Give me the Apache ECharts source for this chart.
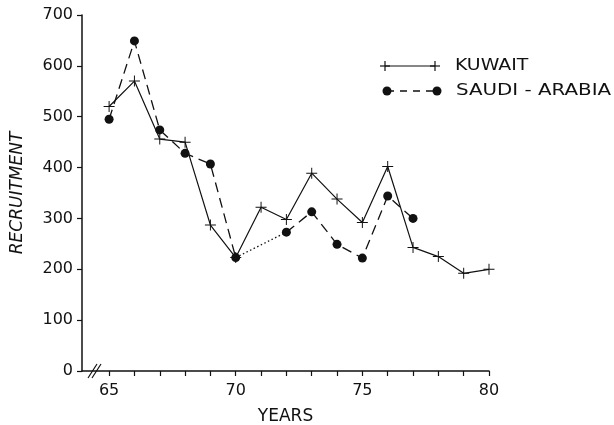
<!DOCTYPE html>
<html><head><meta charset="utf-8">
<script src="https://cdn.jsdelivr.net/npm/echarts@6/dist/echarts.min.js"></script>
<style>html,body{margin:0;padding:0;background:#fff}#c{width:614px;height:425px}</style>
</head><body><div id="c"></div>
<script>
var years = [65,66,67,68,69,70,71,72,73,74,75,76,77,78,79,80];
var kuwait = [520,570,456,450,287,223,322,298,389,338,292,402,243,225,192,200];
var saudiYears = [65,66,67,68,69,70,72,73,74,75,76,77];
var saudi = [495,649,474,428,407,223,273,313,249,222,344,300];
var yTicks = [0,100,200,300,400,500,600,700];
var xLabels = [65,70,75,80];

var FONT = 'DejaVu Sans';
var INK = '#111';
var plus = 'path://M-1,-0.09H1V0.09H-1Z M-0.09,-1H0.09V1H-0.09Z';

var kData = years.map(function(y,i){return [y,kuwait[i]];});
var sAll = saudiYears.map(function(y,i){return [y,saudi[i]];});
var idx70 = saudiYears.indexOf(70);
var sPart1 = sAll.slice(0, idx70+1);
var sGap = sAll.slice(idx70, idx70+2);
var sPart2 = sAll.slice(idx70+1);

function plusGfx(cx, cy){
  return [
    {type:'rect', shape:{x:cx-5,y:cy-0.6,width:10,height:1.2}, style:{fill:INK}},
    {type:'rect', shape:{x:cx-0.6,y:cy-5,width:1.2,height:10}, style:{fill:INK}}
  ];
}

var gfx = [
  {type:'line', shape:{x1:88,y1:378,x2:97,y2:364}, style:{stroke:INK,lineWidth:1.2}},
  {type:'line', shape:{x1:92,y1:378,x2:101,y2:364}, style:{stroke:INK,lineWidth:1.2}},
  {type:'line', shape:{x1:385,y1:66,x2:435,y2:66}, style:{stroke:INK,lineWidth:1.2}},
  {type:'text', x:455, y:66, scaleX:1.18, style:{text:'KUWAIT', font:'16px "DejaVu Sans"', fill:INK, verticalAlign:'middle'}},
  {type:'line', shape:{x1:387,y1:91,x2:437,y2:91}, style:{stroke:INK,lineWidth:1.3,lineDash:[7,6]}},
  {type:'circle', shape:{cx:387,cy:91,r:4.5}, style:{fill:INK}},
  {type:'circle', shape:{cx:437,cy:91,r:4.5}, style:{fill:INK}},
  {type:'text', x:456, y:91, scaleX:1.24, style:{text:'SAUDI - ARABIA', font:'16px "DejaVu Sans"', fill:INK, verticalAlign:'middle'}}
].concat(plusGfx(385,66), plusGfx(435,66));

var chart = echarts.init(document.getElementById('c'), null, {renderer:'canvas'});
chart.setOption({
  animation:false,
  backgroundColor:'#fff',
  grid:{left:82,right:125,top:15,bottom:54,containLabel:false,outerBoundsMode:'none'},
  xAxis:{
    type:'value', min:63.93, max:80,
    axisLine:{lineStyle:{color:INK,width:1.5}},
    axisTick:{show:true,length:5,lineStyle:{color:INK,width:1.2},customValues:years},
    axisLabel:{color:INK,fontFamily:FONT,fontSize:16,margin:12,customValues:xLabels},
    splitLine:{show:false},
    name:'YEARS', nameLocation:'middle', nameGap:37,
    nameTextStyle:{color:INK,fontFamily:FONT,fontSize:17}
  },
  yAxis:{
    type:'value', min:0, max:700, interval:100,
    axisLine:{show:true,lineStyle:{color:INK,width:1.5}},
    axisTick:{show:true,length:5,lineStyle:{color:INK,width:1.2}},
    axisLabel:{color:INK,fontFamily:FONT,fontSize:16,margin:9},
    splitLine:{show:false},
    name:'RECRUITMENT', nameLocation:'middle', nameGap:56, nameRotate:90,
    nameTextStyle:{color:INK,fontFamily:FONT,fontSize:17,fontStyle:'italic'}
  },
  series:[
    {type:'line', name:'KUWAIT', data:kData, symbol:plus, symbolSize:11,
     lineStyle:{color:INK,width:1.2}, itemStyle:{color:INK}, z:3},
    {type:'line', name:'SAUDI - ARABIA', data:sPart1, symbol:'circle', symbolSize:9,
     lineStyle:{color:INK,width:1.3,type:[10,6]}, itemStyle:{color:INK}, z:4},
    {type:'line', data:sGap, symbol:'none',
     lineStyle:{color:INK,width:1.3,type:[1.5,2.5]}, z:2},
    {type:'line', data:sPart2, symbol:'circle', symbolSize:9,
     lineStyle:{color:INK,width:1.3,type:[10,6]}, itemStyle:{color:INK}, z:4}
  ],
  graphic:gfx
});
</script></body></html>
